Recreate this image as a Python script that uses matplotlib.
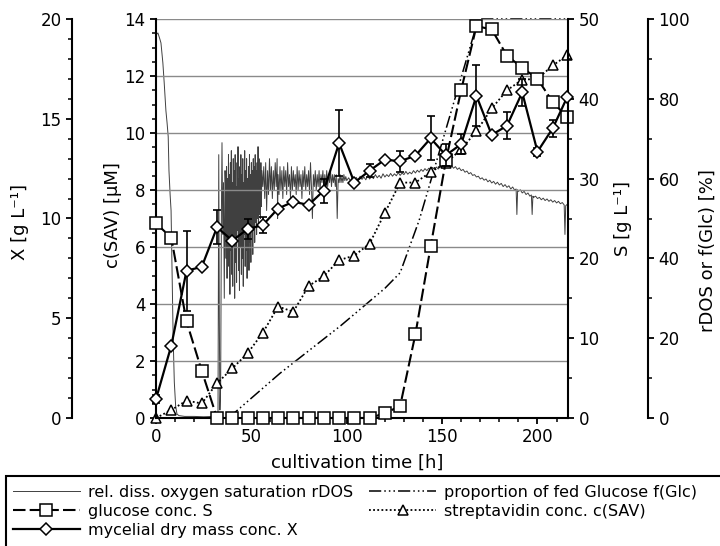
import matplotlib
matplotlib.use('Agg')
import matplotlib.pyplot as plt
from matplotlib.ticker import MultipleLocator
from matplotlib.patches import Rectangle

plt.rcParams['font.family'] = ['DejaVu Sans']

# ---------------- data ----------------
t_samp = [0, 8, 16, 24, 32, 40, 48, 56, 64, 72, 80, 88, 96, 104, 112, 120,
          128, 136, 144, 152, 160, 168, 176, 184, 192, 200, 208, 215.5]
X_vals = [0.95, 3.62, 7.38, 7.58, 9.56, 8.89, 9.47, 9.67, 10.5, 10.84, 10.68,
          11.4, 13.78, 11.8, 12.4, 12.95, 12.87, 13.15, 14.02, 13.17, 13.73,
          16.15, 14.19, 14.65, 16.32, 13.35, 14.52, 16.07]
X_err = [0.2, 0, 2.0, 0, 0.85, 0, 0.5, 0.4, 0, 0, 0, 0.6, 1.65, 0, 0.31, 0,
         0.53, 0, 1.1, 0.55, 0.5, 1.52, 0, 0.69, 0.67, 0.2, 0.44, 0]
S_vals = [24.4, 22.6, 12.1, 5.9, 0, 0, 0, 0, 0, 0, 0, 0, 0, 0, 0, 0.6, 1.5,
          10.5, 21.5, 32.3, 41.1, 49.1, 48.7, 45.4, 43.9, 42.5, 39.6, 37.7]
SAV_vals = [0, 0.28, 0.61, 0.51, 1.22, 1.74, 2.27, 2.99, 3.91, 3.73, 4.63,
            4.98, 5.54, 5.7, 6.12, 7.2, 8.26, 8.26, 8.63, 8.95, 9.43, 10.06,
            10.86, 11.5, 11.87, 11.9, 12.37, 12.72]
fglc_t = [38, 65, 97, 120, 128, 138, 169, 216]
fglc_v = [0, 11.2, 23.2, 32.5, 36.4, 49.6, 100, 100]

rdos_pairs = [
    (0, 96), (1, 96.5), (2, 95), (2.6, 94), (3.2, 91), (3.6, 89), (4.3, 84),
    (5.2, 77), (5.8, 74), (6.4, 70.5), (6.8, 62), (7.4, 56), (7.9, 52),
    (8.4, 38), (9.0, 20), (9.6, 9), (10.3, 3), (11.0, 1), (12, 0.6), (15, 0.4),
    (20, 0.4), (25, 0.3), (30, 0.4), (32.5, 0.4),
    (32.9, 66), (33.2, 25), (33.5, 2), (33.9, 8), (34.3, 52), (34.6, 69),
    (35.0, 46), (35.4, 59), (35.8, 30), (36.2, 62),
    (36.5, 57), (36.75, 40), (37.0, 63), (37.25, 35), (37.5, 60), (37.75, 44),
    (38.0, 66), (38.25, 38), (38.5, 61), (38.75, 31), (39.0, 64), (39.25, 42),
    (39.5, 67), (39.75, 36), (40.0, 59), (40.25, 33), (40.5, 65), (40.75, 45),
    (41.0, 62), (41.25, 30), (41.5, 66), (41.75, 39), (42.0, 58), (42.25, 34),
    (42.5, 64), (42.75, 47), (43.0, 68), (43.25, 37), (43.5, 60), (43.75, 32),
    (44.0, 63), (44.25, 43), (44.5, 66), (44.75, 36), (45.0, 61), (45.25, 40),
    (45.5, 65), (45.75, 33), (46.0, 59), (46.25, 46), (46.5, 67), (46.75, 38),
    (47.0, 62), (47.25, 42), (47.5, 65), (47.75, 35), (48.0, 60), (48.25, 45),
    (48.5, 63), (48.75, 37), (49.0, 66), (49.25, 44), (49.5, 61), (49.75, 39),
    (50.0, 64), (50.25, 48), (50.5, 62), (50.75, 41), (51.0, 65), (51.25, 47),
    (51.5, 63), (51.75, 44), (52.0, 66), (52.25, 49), (52.5, 62), (52.75, 46),
    (53.0, 64), (53.25, 50), (53.5, 68), (53.75, 48), (54.0, 65), (54.25, 51),
    (54.5, 62), (54.75, 50), (55.0, 64), (55.25, 53), (55.5, 62),
    (56.0, 58), (56.5, 63), (57.0, 55), (57.5, 64), (58.0, 52), (58.5, 62),
    (59.0, 56), (59.5, 65), (60.0, 57), (60.5, 63), (61.0, 55), (61.5, 62),
    (62.0, 57), (62.5, 64), (63.0, 58), (63.5, 65), (63.75, 50), (64.0, 61),
    (64.5, 56), (65.0, 63), (65.5, 57), (66.0, 62), (66.5, 55), (67.0, 63),
    (67.5, 58), (68.0, 62), (68.5, 56), (69.0, 64), (69.5, 58), (70.0, 61),
    (70.5, 55), (71.0, 63), (71.5, 57), (72.0, 62), (72.5, 58), (73.0, 61),
    (73.5, 56), (74.0, 63), (74.5, 57), (75.0, 62), (75.5, 58), (76.0, 61),
    (76.5, 55), (77.0, 62), (77.5, 58), (78.0, 63), (78.5, 57), (79.0, 61),
    (79.5, 58), (80.0, 62), (80.5, 56), (81.0, 64), (81.5, 58), (82.0, 50),
    (82.5, 61), (83.0, 58), (83.5, 62), (84.0, 57), (84.5, 61), (85.0, 58),
    (85.5, 62), (86.0, 57), (86.5, 61), (87.0, 59), (87.5, 62), (88.0, 57),
    (88.5, 61), (89.0, 58), (89.5, 62), (90.0, 58), (90.5, 61), (91.0, 59),
    (91.5, 62), (92.0, 58), (92.5, 61), (93.0, 59), (93.5, 61), (94.0, 58),
    (94.5, 61), (95.0, 50), (95.5, 60), (96.0, 59), (96.5, 61), (97.0, 59),
    (97.5, 60.5), (98.0, 59), (98.5, 61), (99.0, 59.5), (99.5, 60.5),
    (100, 59.5), (101, 60.2), (102, 59.4), (103, 60.5), (104, 59.6),
    (105, 60.3), (106, 59.5), (107, 60.6), (108, 59.8), (109, 60.4),
    (110, 59.7), (111, 60.8), (112, 59.9), (113, 60.5), (114, 60.0),
    (115, 61.0), (116, 60.2), (117, 60.8), (118, 60.1), (119, 61.2),
    (120, 60.4), (121, 61.0), (122, 60.5), (123, 61.3), (124, 60.6),
    (125, 61.2), (126, 60.7), (127, 61.5), (128, 60.8), (129, 61.4),
    (130, 61.0), (131, 61.8), (132, 61.1), (133, 61.6), (134, 61.2),
    (135, 62.0), (136, 61.4), (137, 62.1), (138, 61.6), (139, 62.3),
    (140, 61.8), (141, 62.5), (142, 62.0), (143, 62.6), (144, 62.1),
    (145, 62.8), (146, 62.3), (147, 62.9), (148, 62.4), (149, 63.1),
    (150, 62.6), (151, 63.2), (152, 62.7), (153, 63.3), (154, 62.8),
    (155, 63.2), (156, 62.6), (157, 63.0), (158, 62.3), (159, 62.7),
    (160, 62.0), (161, 62.3), (162, 61.6), (163, 61.9), (164, 61.2),
    (165, 61.5), (166, 60.8), (167, 61.0), (168, 60.4), (169, 60.6),
    (170, 59.9), (171, 60.2), (172, 59.6), (173, 59.9), (174, 59.2),
    (175, 59.6), (176, 58.9), (177, 59.3), (178, 58.6), (179, 59.1),
    (180, 58.4), (181, 58.8), (182, 58.0), (183, 58.5), (184, 57.8),
    (185, 58.2), (186, 57.4), (187, 57.9), (188, 57.1), (188.8, 57.4),
    (189.2, 51), (189.6, 57.2), (190, 56.8), (191, 57.2), (192, 56.4),
    (193, 56.8), (194, 56.0), (195, 56.4), (196, 55.6), (196.8, 55.9),
    (197.2, 51), (197.6, 55.6), (198, 55.3), (199, 55.6), (200, 55.0),
    (201, 55.3), (202, 54.7), (203, 55.1), (204, 54.5), (205, 54.9),
    (206, 54.3), (207, 54.7), (208, 54.1), (209, 54.5), (210, 53.9),
    (211, 54.3), (212, 53.7), (213, 54.0), (214, 53.4), (214.4, 46),
    (214.8, 53.2), (215.5, 53.5),
]
rdos_t = [p[0] for p in rdos_pairs]
rdos_v = [p[1] for p in rdos_pairs]

x_ticks = [0, 50, 100, 150, 200]

# ---------------- figure ----------------
W, H = 720, 546
DPI = 100


def fx(px):
    return px / W


def fy(py):
    return 1 - py / H


def px2pt(px):
    return px * 72.0 / DPI


fig = plt.figure(figsize=(7.2, 5.46), dpi=DPI)
fig.patch.set_facecolor('white')
ax = fig.add_axes([fx(156), fy(418), (568 - 156) / W, (418 - 19) / H])
axP = ax.twinx()
axS = ax.twinx()
axX = ax.twinx()

for a in (ax, axP, axS, axX):
    a.patch.set_visible(False)
    for s in a.spines.values():
        s.set_linewidth(1.5)
        s.set_color('black')
    a.spines['top'].set_visible(False)

axP.set_zorder(1)
ax.set_zorder(2)
axS.set_zorder(3)
axX.set_zorder(4)

ax.set_xlim(0, 216)
ax.set_ylim(0, 14)
axX.set_ylim(0, 20)
axS.set_ylim(0, 50)
axP.set_ylim(0, 100)

# main (SAV) axis: left
ax.spines['right'].set_visible(False)
ax.yaxis.set_major_locator(MultipleLocator(2))
ax.yaxis.set_minor_locator(MultipleLocator(0.5))
ax.set_xticks(x_ticks)
ax.xaxis.set_minor_locator(MultipleLocator(10))
ax.grid(axis='y', which='major', color='#8a8a8a', lw=1.0)
ax.set_axisbelow(True)

# X axis: far left
axX.yaxis.tick_left()
axX.spines['left'].set_position(('outward', px2pt(84)))
axX.spines['right'].set_visible(False)
axX.spines['bottom'].set_visible(False)
axX.yaxis.set_major_locator(MultipleLocator(5))
axX.yaxis.set_minor_locator(MultipleLocator(1))

# S axis: right
axS.spines['left'].set_visible(False)
axS.spines['bottom'].set_visible(False)
axS.yaxis.set_major_locator(MultipleLocator(10))
axS.yaxis.set_minor_locator(MultipleLocator(5))

# percent axis: far right
axP.spines['left'].set_visible(False)
axP.spines['bottom'].set_visible(False)
axP.spines['right'].set_position(('outward', px2pt(80)))
axP.yaxis.set_major_locator(MultipleLocator(20))
axP.yaxis.set_minor_locator(MultipleLocator(10))

for a in (ax, axP, axS, axX):
    a.tick_params(which='major', direction='out', length=4.5, width=1.3,
                  labelsize=12, pad=3, color='black')
    a.tick_params(which='minor', direction='out', length=2.6, width=1.1,
                  color='black')

# ---------------- series ----------------
l_rdos, = axP.plot(rdos_t, rdos_v, color='#404040', lw=0.7,
                   label='rel. diss. oxygen saturation rDOS')
l_f, = axP.plot(fglc_t, fglc_v, color='black', lw=1.1,
                dashes=(8, 2, 1, 2, 1, 2, 1, 2),
                label='proportion of fed Glucose f(Glc)')
l_sav, = ax.plot(t_samp, SAV_vals, color='black', lw=1.3, dashes=(1, 1.3),
                 marker='^', ms=7.5, mfc='white', mec='black', mew=1.1,
                 label='streptavidin conc. c(SAV)')
l_s, = axS.plot(t_samp, S_vals, color='black', lw=1.5, dashes=(6, 2),
                marker='s', ms=8.3, mfc='white', mec='black', mew=1.1,
                label='glucose conc. S')
axX.errorbar(t_samp, X_vals, yerr=X_err, fmt='none', ecolor='black',
             elinewidth=1.2, capsize=2.8, capthick=1.2)
l_x, = axX.plot(t_samp, X_vals, color='black', lw=1.6, marker='D', ms=6.3,
                mfc='white', mec='black', mew=1.1,
                label='mycelial dry mass conc. X')
for a in (ax, axS, axX, axP):
    for ln in a.lines:
        ln.set_clip_on(False)
l_rdos.set_clip_on(True)

# ---------------- labels ----------------
fig.text(fx(20), fy(222), 'X [g L⁻¹]', rotation=90, ha='center', va='center',
         fontsize=13)
fig.text(fx(113), fy(215), 'c(SAV) [µM]', rotation=90, ha='center',
         va='center', fontsize=13)
fig.text(fx(623), fy(218), 'S [g L⁻¹]', rotation=90, ha='center', va='center',
         fontsize=13)
fig.text(fx(708), fy(251), 'rDOS or f(Glc) [%]', rotation=90, ha='center',
         va='center', fontsize=13)
fig.text(fx(357), fy(463), 'cultivation time [h]', ha='center', va='center',
         fontsize=13)

# ---------------- legend ----------------
handles = [l_rdos, l_s, l_x, l_f, l_sav]
leg = fig.legend(handles, [h.get_label() for h in handles], loc='upper left',
                 bbox_to_anchor=(fx(8), fy(480)), ncol=2, frameon=False,
                 fontsize=11.5, handlelength=4.2, handletextpad=0.5,
                 columnspacing=1.0, labelspacing=0.25, borderpad=0.3,
                 borderaxespad=0, numpoints=1)
rect = Rectangle((fx(6), fy(600)), fx(760) - fx(6), fy(476) - fy(600),
                 transform=fig.transFigure, fill=False, lw=1.5, ec='black',
                 clip_on=False)
fig.add_artist(rect)

fig.savefig('out.png', dpi=DPI)
